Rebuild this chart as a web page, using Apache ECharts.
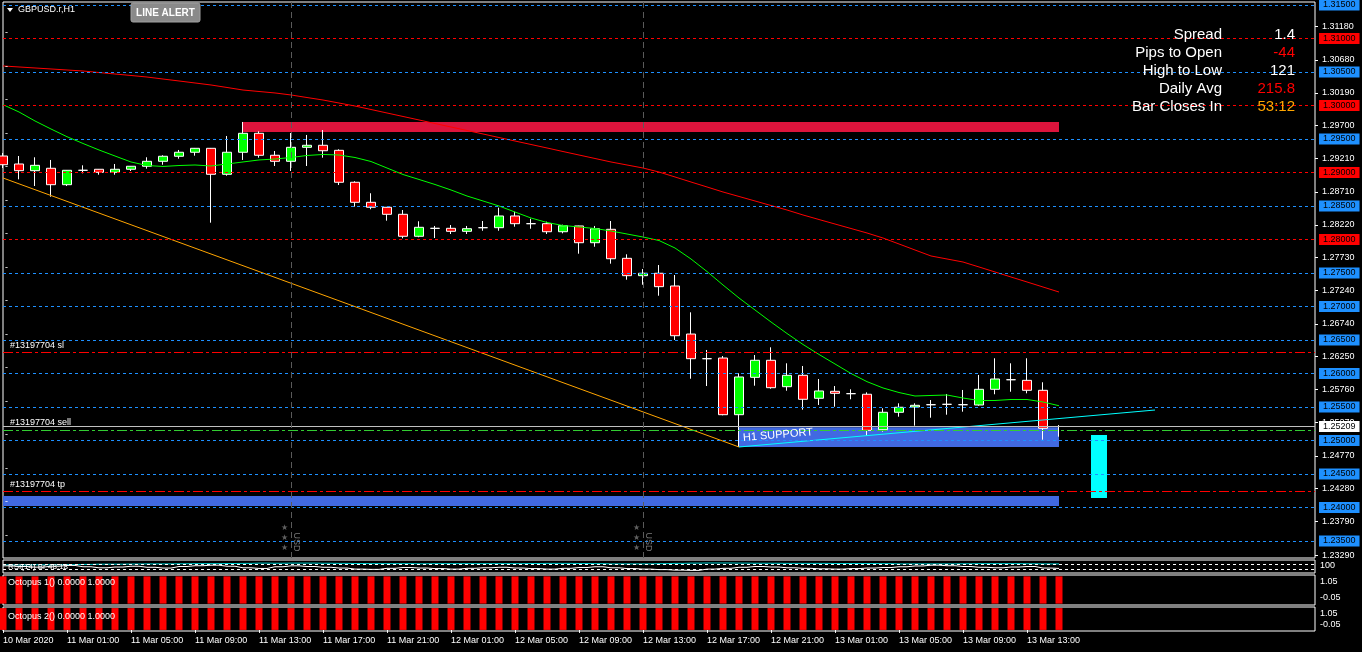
<!DOCTYPE html>
<html><head><meta charset="utf-8">
<script src="https://cdn.jsdelivr.net/npm/echarts@6/dist/echarts.min.js"></script>
<style>html,body{margin:0;padding:0;background:#000;overflow:hidden}#c{width:1362px;height:652px}</style>
</head><body><div id="c"></div>
<script>
// ---------- DATA ----------
const timeLabels = ['10 Mar 2020','11 Mar 01:00','11 Mar 05:00','11 Mar 09:00','11 Mar 13:00','11 Mar 17:00','11 Mar 21:00','12 Mar 01:00','12 Mar 05:00','12 Mar 09:00','12 Mar 13:00','12 Mar 17:00','12 Mar 21:00','13 Mar 01:00','13 Mar 05:00','13 Mar 09:00','13 Mar 13:00'];
const open  = [1.29246,1.29127,1.29027,1.29063,1.28818,1.29033,1.29048,1.29003,1.29048,1.29093,1.29167,1.29242,1.29302,1.29361,1.28973,1.29302,1.29585,1.29257,1.29167,1.29376,1.29406,1.29331,1.28854,1.28555,1.28481,1.28376,1.28048,1.28166,1.28167,1.28122,1.28176,1.28176,1.28351,1.28236,1.28236,1.28116,1.28202,1.27952,1.28152,1.27719,1.27460,1.27496,1.27306,1.26589,1.26221,1.26231,1.25385,1.25943,1.26197,1.25803,1.25973,1.25630,1.25734,1.25699,1.25690,1.25161,1.25421,1.25500,1.25534,1.25540,1.25534,1.25530,1.25764,1.25907,1.25898,1.25749,1.25209];
const high  = [1.29291,1.29246,1.29227,1.29187,1.29036,1.29107,1.29052,1.29127,1.29097,1.29227,1.29257,1.29336,1.29366,1.29366,1.29545,1.29754,1.29615,1.29321,1.29590,1.29560,1.29634,1.29346,1.28869,1.28690,1.28484,1.28440,1.28272,1.28202,1.28216,1.28202,1.28276,1.28475,1.28415,1.28310,1.28266,1.28221,1.28205,1.28202,1.28276,1.27779,1.27560,1.27619,1.27470,1.26913,1.26351,1.26261,1.26003,1.26276,1.26391,1.26152,1.26112,1.25918,1.25813,1.25764,1.25719,1.25481,1.25555,1.25555,1.25604,1.25694,1.25754,1.25978,1.26227,1.26152,1.26227,1.25869,1.25231];
const low   = [1.29067,1.28898,1.28798,1.28639,1.28798,1.28988,1.28967,1.28967,1.29022,1.29057,1.29116,1.29206,1.29251,1.28251,1.28952,1.29187,1.29221,1.29097,1.29022,1.29097,1.29221,1.28813,1.28490,1.28451,1.28281,1.28018,1.28033,1.28022,1.28082,1.28082,1.28131,1.28131,1.28191,1.28161,1.28082,1.28092,1.27788,1.27892,1.27639,1.27400,1.27325,1.27161,1.26500,1.25922,1.25813,1.25376,1.24903,1.25818,1.25773,1.25743,1.25460,1.25530,1.25504,1.25615,1.25072,1.25131,1.25355,1.25221,1.25340,1.25385,1.25430,1.25519,1.25690,1.25728,1.25704,1.25012,1.25057];
const close = [1.29116,1.29027,1.29107,1.28818,1.29033,1.29033,1.29003,1.29048,1.29093,1.29167,1.29242,1.29302,1.29361,1.28973,1.29302,1.29585,1.29257,1.29167,1.29376,1.29406,1.29325,1.28854,1.28555,1.28481,1.28376,1.28048,1.28182,1.28167,1.28122,1.28161,1.28176,1.28351,1.28236,1.28236,1.28116,1.28206,1.27952,1.28161,1.27713,1.27460,1.27496,1.27296,1.26564,1.26221,1.26221,1.25385,1.25948,1.26197,1.25788,1.25973,1.25615,1.25739,1.25704,1.25699,1.25152,1.25421,1.25496,1.25525,1.25534,1.25540,1.25534,1.25764,1.25918,1.25907,1.25749,1.25182,1.25209];
const maSlow = [1.30590,1.30575,1.30560,1.30545,1.30530,1.30515,1.30492,1.30470,1.30448,1.30425,1.30395,1.30366,1.30336,1.30306,1.30269,1.30231,1.30209,1.30187,1.30157,1.30119,1.30082,1.30037,1.29992,1.29940,1.29888,1.29836,1.29784,1.29731,1.29679,1.29627,1.29575,1.29522,1.29470,1.29418,1.29366,1.29313,1.29261,1.29209,1.29157,1.29112,1.29067,1.29007,1.28933,1.28858,1.28784,1.28709,1.28642,1.28575,1.28507,1.28440,1.28366,1.28298,1.28231,1.28164,1.28097,1.28022,1.27933,1.27843,1.27754,1.27709,1.27664,1.27590,1.27515,1.27440,1.27366,1.27291,1.27216];
const maFast = [1.30012,1.29903,1.29769,1.29649,1.29534,1.29433,1.29336,1.29246,1.29157,1.29104,1.29090,1.29104,1.29112,1.29097,1.29127,1.29157,1.29187,1.29201,1.29224,1.29254,1.29269,1.29261,1.29224,1.29164,1.29067,1.28970,1.28896,1.28821,1.28739,1.28649,1.28575,1.28500,1.28410,1.28321,1.28254,1.28209,1.28187,1.28164,1.28127,1.28082,1.28037,1.27985,1.27873,1.27709,1.27522,1.27321,1.27127,1.26948,1.26769,1.26597,1.26433,1.26284,1.26142,1.26000,1.25878,1.25784,1.25716,1.25664,1.25672,1.25679,1.25634,1.25597,1.25597,1.25612,1.25612,1.25575,1.25519];
const rsiSignal = [62,62,63,63,64,66,68,68,69,70,70,71,72,72,73,74,76,75,76,76,75,74,73,72,72,72,71,72,72,72,72,72,72,73,74,74,73,72,70,70,70,72,74,76,77,77,76,75,75,74,74,74,73,73,73,72,70,70,70,70,71,72,72,72,71,70,70];
const rsiMain = [55,50,45,52,58,48,40,46,52,44,38,50,56,60,52,40,35,48,55,50,44,38,30,28,36,42,38,34,30,36,40,44,38,34,30,36,42,48,40,34,30,26,22,20,30,36,44,50,46,40,36,32,30,34,38,42,48,54,60,56,50,44,40,46,50,38,35];
const octopus1 = [1,1,1,1,1,1,1,1,1,1,1,1,1,1,1,1,1,1,1,1,1,1,1,1,1,1,1,1,1,1,1,1,1,1,1,1,1,1,1,1,1,1,1,1,1,1,1,1,1,1,1,1,1,1,1,1,1,1,1,1,1,1,1,1,1,1,1];
const octopus2 = [1,1,1,1,1,1,1,1,1,1,1,1,1,1,1,1,1,1,1,1,1,1,1,1,1,1,1,1,1,1,1,1,1,1,1,1,1,1,1,1,1,1,1,1,1,1,1,1,1,1,1,1,1,1,1,1,1,1,1,1,1,1,1,1,1,1,1];
const priceTicks = [1.31180,1.30680,1.30190,1.29700,1.29210,1.28710,1.28220,1.27730,1.27240,1.26740,1.26250,1.25760,1.25270,1.24770,1.24280,1.23790,1.23290];
const blueLevels = [1.315,1.305,1.295,1.285,1.275,1.270,1.265,1.260,1.255,1.250,1.245,1.240,1.235];
const redLevels = [1.310,1.300,1.290,1.280];
const slPrice = 1.26320, sellPrice = 1.25157, tpPrice = 1.24242, bidPrice = 1.25209;
const orderId = '#13197704';
const resistZone = [15, 66, 1.29605, 1.29754];
const supportZone = [46, 66, 1.24903, 1.25197];
const tpZone = [0, 66, 1.24022, 1.24172];
const cyanBox = [68, 69, 1.24142, 1.25082];
const orangeTrend = [[0, 1.28918], [46, 1.24903]];
const cyanTrend = [[46, 1.24903], [72, 1.25455]];
const newsBars = [18, 40];
const infoRows = [['Spread','1.4','#ffffff'],['Pips to Open','-44','#ff0000'],['High to Low','121','#ffffff'],['Daily Avg','215.8','#ff0000'],['Bar Closes In','53:12','#ffa500']];

// ---------- CHART ----------
const FONT = 'Liberation Sans, Arial, sans-serif';
const NSLOT = 83;
const cats = []; for (let i = 0; i < NSLOT; i++) cats.push(String(i));
const candleData = open.map((o, i) => [o, close[i], low[i], high[i]]);
const yMax = 1.315447, yMin = 1.232462;

const chart = echarts.init(document.getElementById('c'), null, {renderer: 'canvas'});

function xAxisDef(gi, showLabels) {
  return {
    type: 'category', gridIndex: gi, data: cats, boundaryGap: false,
    axisLine: {show: false},
    axisTick: showLabels ? {show: true, length: 3, lineStyle: {color: '#fff'}, interval: (i) => i % 4 === 0 && i <= 64} : {show: false},
    axisLabel: showLabels ? {
      show: true, color: '#fff', fontSize: 9, fontFamily: 'Liberation Sans Narrow, Liberation Sans, Arial', align: 'left', margin: 5,
      interval: (i) => i % 4 === 0 && i <= 64,
      formatter: (v, i) => (i % 4 === 0 && timeLabels[i / 4]) ? timeLabels[i / 4] : ''
    } : {show: false},
    splitLine: {show: false}
  };
}

const levelLines = [];
function addLevel(v, color) {
  levelLines.push({yAxis: v, lineStyle: {color: color, type: [3, 3], width: 1},
    label: {show: true, position: 'end', distance: 4, formatter: v.toFixed(5), backgroundColor: color, color: '#000', padding: [1, 4, 1, 4], fontSize: 9, lineHeight: 9, fontFamily: FONT}});
  levelLines.push({yAxis: v, lineStyle: {color: 'rgba(0,0,0,0)', width: 1},
    label: {show: true, position: 'insideStartTop', distance: [2, 1], formatter: '-', color: '#ffffff', fontSize: 9, fontFamily: FONT}});
}
blueLevels.forEach(v => addLevel(v, '#1e90ff'));
redLevels.forEach(v => addLevel(v, '#ff0000'));
levelLines.push({yAxis: slPrice, lineStyle: {color: '#ff0000', type: [10, 3, 3, 3], width: 1},
  label: {show: true, position: 'insideStartTop', distance: [7, 2], formatter: orderId + ' sl', color: '#fff', fontSize: 9, fontFamily: FONT}});
levelLines.push({yAxis: tpPrice, lineStyle: {color: '#ff0000', type: [10, 3, 3, 3], width: 1},
  label: {show: true, position: 'insideStartTop', distance: [7, 2], formatter: orderId + ' tp', color: '#fff', fontSize: 9, fontFamily: FONT}});
levelLines.push({yAxis: sellPrice, lineStyle: {color: '#32cd32', type: [10, 3, 3, 3], width: 1},
  label: {show: true, position: 'insideStartTop', distance: [7, 3], formatter: orderId + ' sell', color: '#fff', fontSize: 9, fontFamily: FONT}});
levelLines.push({yAxis: bidPrice, lineStyle: {color: '#c0c0c0', type: 'solid', width: 1},
  label: {show: true, position: 'end', distance: 4, formatter: bidPrice.toFixed(5), backgroundColor: '#ffffff', color: '#000', padding: [1, 4, 1, 4], fontSize: 9, lineHeight: 9, fontFamily: FONT}});

const option = {
  backgroundColor: '#000',
  animation: false,
  grid: [
    {left: 3, top: 2, width: 1312, height: 556, show: true, borderColor: '#fff', borderWidth: 1, backgroundColor: 'transparent'},
    {left: 3, top: 560, width: 1312, height: 13, show: true, borderColor: '#fff', borderWidth: 1},
    {left: 3, top: 575, width: 1312, height: 30, show: true, borderColor: '#fff', borderWidth: 1},
    {left: 3, top: 607, width: 1312, height: 24, show: true, borderColor: '#fff', borderWidth: 1}
  ],
  xAxis: [xAxisDef(0, false), xAxisDef(1, false), xAxisDef(2, false), xAxisDef(3, true)],
  yAxis: [
    {type: 'value', gridIndex: 0, position: 'right', min: yMin, max: yMax, scale: true,
      axisLine: {show: false}, splitLine: {show: false},
      axisTick: {show: true, length: 3, lineStyle: {color: '#fff'}, customValues: priceTicks},
      axisLabel: {show: true, color: '#fff', fontSize: 9, fontFamily: FONT, margin: 7, customValues: priceTicks, formatter: v => v.toFixed(5)}},
    {type: 'value', gridIndex: 1, position: 'right', min: 0, max: 100, axisLine: {show: false}, axisTick: {show: false}, axisLabel: {show: false}, splitLine: {show: false}},
    {type: 'value', gridIndex: 2, position: 'right', min: -0.05, max: 1.05, axisLine: {show: false}, axisTick: {show: false}, axisLabel: {show: false}, splitLine: {show: false}},
    {type: 'value', gridIndex: 3, position: 'right', min: -0.05, max: 1.05, axisLine: {show: false}, axisTick: {show: false}, axisLabel: {show: false}, splitLine: {show: false}}
  ],
  series: [
    {name: 'zones', type: 'line', xAxisIndex: 0, yAxisIndex: 0, data: [], z: 1, silent: true,
      markArea: {silent: true, data: [
        [{xAxis: resistZone[0], yAxis: resistZone[3], itemStyle: {color: '#dc143c', opacity: 1}}, {xAxis: resistZone[1], yAxis: resistZone[2]}],
        [{xAxis: supportZone[0], yAxis: supportZone[3], itemStyle: {color: '#4169e1', opacity: 1}}, {xAxis: supportZone[1], yAxis: supportZone[2]}],
        [{xAxis: tpZone[0], yAxis: tpZone[3], itemStyle: {color: '#4169e1', opacity: 1}}, {xAxis: tpZone[1], yAxis: tpZone[2]}],
        [{xAxis: cyanBox[0], yAxis: cyanBox[3], itemStyle: {color: '#00ffff', opacity: 1}}, {xAxis: cyanBox[1], yAxis: cyanBox[2]}]
      ]}},
    {name: 'levels', type: 'line', xAxisIndex: 0, yAxisIndex: 0, data: [], z: 2, silent: true,
      markLine: {silent: true, precision: 6, symbol: ['none', 'none'], animation: false, data: levelLines.concat(
        newsBars.map(b => ({xAxis: b, lineStyle: {color: '#5a5a5a', type: [6, 4], width: 1}, label: {show: false}})))}},
    {name: 'price', type: 'candlestick', xAxisIndex: 0, yAxisIndex: 0, data: candleData, barWidth: 10, z: 3, silent: true,
      itemStyle: {color: '#00ff00', color0: '#ff0000', borderColor: '#ffffff', borderColor0: '#ffffff', borderColorDoji: '#ffffff', borderWidth: 1}},
    {name: 'maSlow', type: 'line', xAxisIndex: 0, yAxisIndex: 0, data: maSlow, showSymbol: false, z: 4, silent: true, lineStyle: {color: '#ff0000', width: 1}},
    {name: 'maFast', type: 'line', xAxisIndex: 0, yAxisIndex: 0, data: maFast, showSymbol: false, z: 4, silent: true, lineStyle: {color: '#00ff00', width: 1}},
    {name: 'orangeTrend', type: 'line', xAxisIndex: 0, yAxisIndex: 0, data: orangeTrend, showSymbol: false, z: 4, silent: true, lineStyle: {color: '#ffa500', width: 1}},
    {name: 'cyanTrend', type: 'line', xAxisIndex: 0, yAxisIndex: 0, data: cyanTrend, showSymbol: false, z: 4, silent: true, lineStyle: {color: '#00ffff', width: 1}},
    {name: 'rsiSignal', type: 'line', xAxisIndex: 1, yAxisIndex: 1, data: rsiSignal, showSymbol: false, silent: true, lineStyle: {color: '#00ced1', width: 1}, step: 'middle'},
    {name: 'rsiMain', type: 'line', xAxisIndex: 1, yAxisIndex: 1, data: rsiMain, showSymbol: false, silent: true, lineStyle: {color: '#ffffff', width: 1}, step: 'middle',
      markLine: {silent: true, symbol: ['none', 'none'], label: {show: false}, data: [{yAxis: 70}, {yAxis: 30}], lineStyle: {color: '#ffffff', type: [3, 3], width: 1}}},
    {name: 'Octopus 1', type: 'bar', xAxisIndex: 2, yAxisIndex: 2, data: octopus1, barWidth: 7, silent: true, itemStyle: {color: '#ff0000'}},
    {name: 'Octopus 2', type: 'bar', xAxisIndex: 3, yAxisIndex: 3, data: octopus2, barWidth: 7, silent: true, itemStyle: {color: '#ff0000'}}
  ]
};
chart.setOption(option);

// ---------- annotations placed through the chart's scales ----------
const g = [];
const txt = (x, y, text, fill, size, extra) => Object.assign({type: 'text', x: x, y: y, silent: true, z: 100,
  style: Object.assign({text: text, fill: fill, font: size + 'px ' + FONT, textVerticalAlign: 'middle'}, extra || {})});
// header
g.push({type: 'polygon', silent: true, z: 100, shape: {points: [[7, 8], [13, 8], [10, 12]]}, style: {fill: '#fff'}});
g.push(txt(18, 10, 'GBPUSD.r,H1', '#fff', 9));
g.push({type: 'rect', silent: true, z: 100, shape: {x: 131, y: 3, width: 69, height: 19, r: 2}, style: {fill: '#8a8a8a', stroke: '#a0a0a0'}});
g.push(txt(165.5, 13, 'LINE ALERT', '#fff', 10, {font: 'bold 10px Liberation Sans Narrow, Liberation Sans, Arial', textAlign: 'center'}));
// info panel
infoRows.forEach((r, i) => {
  const y = 35 + i * 18;
  g.push(txt(1222, y, r[0], '#fff', 15, {textAlign: 'right'}));
  g.push(txt(1295, y, r[1], r[2], 15, {textAlign: 'right'}));
});
// H1 SUPPORT label along the support trendline
const sp = chart.convertToPixel({gridIndex: 0}, [supportZone[0], supportZone[2]]);
g.push(Object.assign(txt(sp[0] + 4, sp[1] - 9, 'H1 SUPPORT', '#fff', 11), {rotation: 0.085}));
// news markers
newsBars.forEach(b => {
  const p = chart.convertToPixel({gridIndex: 0}, [b, 1.2335]);
  [528, 538, 548].forEach(yy => g.push(txt(p[0] - 7, yy, '★', '#5f5f5f', 8, {textAlign: 'center'})));
  g.push(Object.assign(txt(p[0] + 5, 542, 'USD', '#7a7a7a', 9, {textAlign: 'center'}), {rotation: -Math.PI / 2}));
});
// sub-window captions and scales
g.push(txt(8, 567, 'RSI(14) Br 48.18', '#fff', 8));
g.push(txt(1320, 566, '100', '#fff', 9));
g.push(txt(8, 583, 'Octopus 1() 0.0000 1.0000', '#fff', 9));
g.push(txt(8, 617, 'Octopus 2() 0.0000 1.0000', '#fff', 9));
g.push(txt(1320, 582, '1.05', '#fff', 9));
g.push(txt(1320, 598, '-0.05', '#fff', 9));
g.push(txt(1320, 614, '1.05', '#fff', 9));
g.push(txt(1320, 625, '-0.05', '#fff', 9));
chart.setOption({graphic: g});
</script></body></html>
